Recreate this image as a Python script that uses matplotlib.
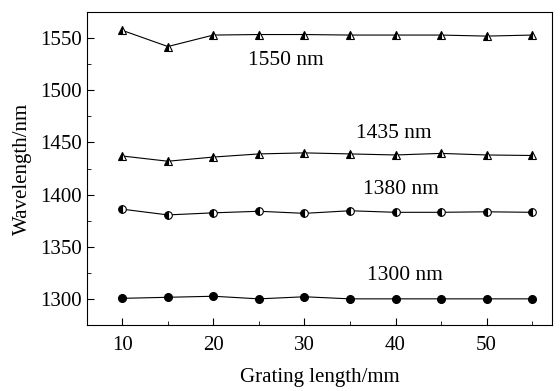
import matplotlib
matplotlib.use("Agg")
import matplotlib.pyplot as plt
from matplotlib.ticker import MultipleLocator

plt.rcParams['font.family'] = ['Liberation Serif', 'DejaVu Serif']

# Data
grating_length = [10, 15, 20, 25, 30, 35, 40, 45, 50, 55]
wl_1550 = [1557.5, 1542, 1553, 1553.5, 1553.5, 1553, 1553, 1553, 1552, 1553]
wl_1435 = [1437, 1432, 1436, 1439, 1440, 1439, 1438, 1439.5, 1438, 1437.5]
wl_1380 = [1386, 1380.5, 1382.5, 1384, 1382, 1384.5, 1383, 1383, 1383.5, 1383]
wl_1300 = [1300.5, 1301.5, 1302.5, 1300, 1302, 1300, 1300, 1300, 1300, 1300]

fig = plt.figure(figsize=(5.6, 3.91), dpi=100)
ax = fig.add_axes([0.155, 0.169, 0.831, 0.800])

line_kw = dict(color='black', linewidth=0.8, markeredgecolor='black',
               markerfacecolor='black', markerfacecoloralt='white',
               markeredgewidth=0.8, fillstyle='left')

ax.plot(grating_length, wl_1550, marker='^', markersize=5.5, **line_kw)
ax.plot(grating_length, wl_1435, marker='^', markersize=5.5, **line_kw)
ax.plot(grating_length, wl_1380, marker='o', markersize=5.5, **line_kw)
ax.plot(grating_length, wl_1300, marker='o', markersize=5.5,
        color='black', linewidth=0.8, markerfacecolor='black',
        markeredgecolor='black')

# curve labels
ax.text(28.0, 1529, '1550 nm', fontsize=15.5, ha='center', va='center')
ax.text(39.8, 1459, '1435 nm', fontsize=15.5, ha='center', va='center')
ax.text(40.6, 1404.5, '1380 nm', fontsize=15.5, ha='center', va='center')
ax.text(41.0, 1322, '1300 nm', fontsize=15.5, ha='center', va='center')

ax.set_xlim(6.1, 57.2)
ax.set_ylim(1275, 1575)
ax.xaxis.set_major_locator(MultipleLocator(10))
ax.xaxis.set_minor_locator(MultipleLocator(5))
ax.yaxis.set_major_locator(MultipleLocator(50))
ax.yaxis.set_minor_locator(MultipleLocator(25))
ax.tick_params(which='both', direction='in', labelsize=15)
ax.tick_params(which='major', length=5)
ax.tick_params(which='minor', length=3)
ax.tick_params(axis='x', pad=8)

ax.set_xlabel('Grating length/mm', fontsize=15, labelpad=9)
ax.set_ylabel('Wavelength/nm', fontsize=15, labelpad=6)

fig.savefig('out.png', dpi=100)
